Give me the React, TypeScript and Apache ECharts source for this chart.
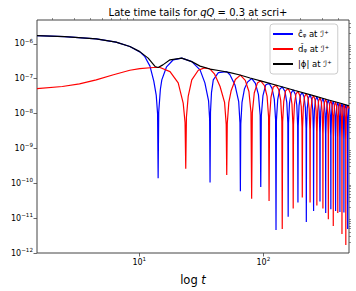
import React, { useEffect, useRef } from "react";
import * as echarts from "echarts";

// ---- data ----
const SERIES_NAMES = ["c\u0302\u1D69 at \u2110\u207A", "d\u0302\u1D69 at \u2110\u207A", "|\u03D5| at \u2110\u207A"];

const X_MIN = 1.5;
const X_MAX = 490;
const Y_MIN = 1e-12;
const Y_MAX = 4.85e-6;
const X_MAJOR = [10, 100];
const Y_MAJOR = [1e-12, 1e-11, 1e-10, 1e-9, 1e-8, 1e-7, 1e-6];

// ĉ_phi (blue)
const cHat: number[][] = [
  [1.5, 1.73e-6], [2.5, 1.62e-6], [4.5, 1.39e-6], [6.5, 1.12e-6], [8.4, 8.4e-7], [10.1, 5.9e-7],
  [11.1, 4.3e-7], [12.2, 2.3e-7], [13.1, 8.5e-8], [13.7, 3.4e-8], [14.05, 1e-8], [14.2, 1.4e-10],
  [14.35, 1.1e-8], [14.8, 5e-8], [15.2, 9.3e-8], [16.6, 2.2e-7], [18.8, 3.5e-7], [22, 3.9e-7],
  [26.5, 3.1e-7], [30.9, 1.8e-7], [33.8, 7.6e-8], [36.2, 2.3e-8], [36.9, 7e-9], [37.2, 1.05e-10],
  [37.5, 1.1e-8], [38.2, 4e-8], [39.5, 9.3e-8], [43.4, 1.5e-7], [50.7, 1.6e-7], [53.8, 1.3e-7],
  [59.2, 6.5e-8], [63.3, 2.2e-8], [64.8, 5.5e-9], [65.3, 5.9e-11], [65.8, 5e-9], [67.3, 2.1e-8],
  [70.5, 5.2e-8], [74.5, 8e-8], [80.5, 1.02e-7],
  [86.3, 7.4e-8], [91.3, 3.5e-8], [94.3, 9e-9], [95.3, 7.8e-11], [96.3, 8.7e-9], [99.3, 3.3e-8], [104.3, 6.6e-8], [111.2, 7.46e-8],
  [117.5, 5.3e-8], [122.5, 2.6e-8], [125.5, 6.8e-9], [126.5, 4.6e-12], [127.5, 6.5e-9], [130.5, 2.5e-8], [135.5, 5e-8], [142, 5.85e-8],
  [149.5, 4.3e-8], [154.5, 2.1e-8], [157.5, 5.4e-9], [158.5, 1.1e-11], [159.5, 5.2e-9], [162.5, 2e-8], [167.5, 3.9e-8], [174, 4.77e-8],
  [181, 3.6e-8], [186, 1.74e-8], [189, 4.5e-9], [190, 2.8e-11], [191, 4.4e-9], [194, 1.7e-8], [199, 3.4e-8], [206, 4.03e-8],
  [213, 3e-8], [218, 1.48e-8], [221, 3.8e-9], [222, 7.8e-12], [223, 3.7e-9], [226, 1.43e-8], [231, 2.8e-8], [238, 3.49e-8],
  [245, 2.6e-8], [250, 1.3e-8], [253, 3.3e-9], [254, 1.6e-11], [255, 3.2e-9], [258, 1.25e-8], [263, 2.45e-8], [270, 3.07e-8],
  [277, 2.3e-8], [282, 1.12e-8], [285, 2.9e-9], [286, 3e-11], [287, 2.85e-9], [290, 1.1e-8], [295, 2.2e-8], [302, 2.75e-8],
  [309, 2.07e-8], [314, 1e-8], [317, 2.6e-9], [318, 1.4e-11], [319, 2.55e-9], [322, 9.8e-9], [327, 1.97e-8], [334, 2.49e-8],
  [341, 1.87e-8], [346, 9.1e-9], [349, 2.35e-9], [350, 1.8e-11], [351, 2.3e-9], [354, 9e-9], [359, 1.8e-8], [366, 2.27e-8],
  [373, 1.72e-8], [378, 8.4e-9], [381, 2.15e-9], [382, 1.6e-11], [383, 2.1e-9], [386, 8.2e-9], [391, 1.66e-8], [398, 2.09e-8],
  [405, 1.6e-8], [410, 7.8e-9], [413, 2e-9], [414, 1.5e-11], [415, 1.95e-9], [418, 7.6e-9], [423, 1.53e-8], [430, 1.93e-8],
  [437, 1.48e-8], [442, 7.2e-9], [445, 1.85e-9], [446, 1.45e-11], [447, 1.8e-9], [450, 7e-9], [455, 1.42e-8], [462, 1.8e-8],
  [469, 1.38e-8], [474, 6.7e-9], [477, 1.72e-9], [478, 4.9e-12], [479, 1.7e-9], [482, 6.5e-9], [487, 1.32e-8], [490, 1.5e-8],
];

// d̂_phi (red)
const dHat: number[][] = [
  [1.5, 5.2e-8], [2.4, 6e-8], [3.3, 7.1e-8], [4.5, 9.3e-8], [6.2, 1.3e-7], [8.4, 1.75e-7], [10.1, 1.95e-7],
  [13, 2.1e-7], [14.7, 2.1e-7], [17.7, 1.6e-7], [20.6, 7.6e-8], [22.6, 2e-8], [23.4, 5.5e-9], [23.7, 2.6e-10],
  [24, 8e-9], [24.8, 3.1e-8], [26.5, 9.3e-8], [29.9, 1.75e-7], [33.5, 2.05e-7], [37.2, 1.9e-7], [40.5, 1.35e-7],
  [44.8, 6e-8], [48.7, 2.1e-8], [50.2, 5e-9], [50.7, 1.74e-10], [51.2, 5.2e-9], [52.7, 2.1e-8], [55, 4.5e-8],
  [59.5, 9.5e-8], [65.3, 1.27e-7],
  [71.5, 9e-8], [76.5, 4.3e-8], [79.5, 1.1e-8], [80.5, 3.6e-11], [81.5, 1.05e-8], [84.5, 3.9e-8], [89.5, 7.5e-8], [95.3, 8.7e-8],
  [102.2, 6.3e-8], [107.2, 3.1e-8], [110.2, 8e-9], [111.2, 3.1e-11], [112.2, 7.6e-9], [115.2, 2.9e-8], [120.2, 5.8e-8], [126.5, 6.56e-8],
  [133, 4.9e-8], [138, 2.4e-8], [141, 6e-9], [142, 4.9e-12], [143, 5.8e-9], [146, 2.2e-8], [151, 4.5e-8], [158.5, 5.24e-8],
  [165, 3.9e-8], [170, 1.9e-8], [173, 4.9e-9], [174, 1.9e-11], [175, 4.7e-9], [178, 1.8e-8], [183, 3.6e-8], [190, 4.37e-8],
  [197, 3.25e-8], [202, 1.6e-8], [205, 4.1e-9], [206, 3.9e-11], [207, 4e-9], [210, 1.55e-8], [215, 3.1e-8], [222, 3.74e-8],
  [229, 2.8e-8], [234, 1.38e-8], [237, 3.5e-9], [238, 2.8e-11], [239, 3.45e-9], [242, 1.33e-8], [247, 2.65e-8], [254, 3.27e-8],
  [261, 2.47e-8], [266, 1.2e-8], [269, 3.1e-9], [270, 2.3e-11], [271, 3.05e-9], [274, 1.17e-8], [279, 2.35e-8], [286, 2.9e-8],
  [293, 2.2e-8], [298, 1.07e-8], [301, 2.75e-9], [302, 1.9e-11], [303, 2.7e-9], [306, 1.04e-8], [311, 2.1e-8], [318, 2.61e-8],
  [325, 2e-8], [330, 9.7e-9], [333, 2.5e-9], [334, 9.3e-12], [335, 2.45e-9], [338, 9.4e-9], [343, 1.9e-8], [350, 2.37e-8],
  [357, 1.8e-8], [362, 8.8e-9], [365, 2.25e-9], [366, 6e-12], [367, 2.2e-9], [370, 8.6e-9], [375, 1.73e-8], [382, 2.17e-8],
  [389, 1.66e-8], [394, 8.1e-9], [397, 2.08e-9], [398, 1.4e-11], [399, 2.05e-9], [402, 7.9e-9], [407, 1.6e-8], [414, 2.0e-8],
  [421, 1.53e-8], [426, 7.4e-9], [429, 1.9e-9], [430, 3.5e-12], [431, 1.88e-9], [434, 7.2e-9], [439, 1.48e-8], [446, 1.86e-8],
  [453, 1.42e-8], [458, 6.9e-9], [461, 1.77e-9], [462, 1.7e-12], [463, 1.75e-9], [466, 6.7e-9], [471, 1.36e-8], [478, 1.74e-8],
  [484, 1.6e-8], [490, 1.4e-8],
];

// |phi| (black)
const phiAbs: number[][] = [
  [1.5, 1.73e-6], [2.5, 1.62e-6], [4.5, 1.39e-6], [6.5, 1.12e-6], [8.4, 8.4e-7], [10.1, 6e-7], [11.8, 3.9e-7],
  [13.4, 2.25e-7], [14.2, 2.1e-7], [15.5, 2.5e-7], [17.7, 3.5e-7], [22, 3.9e-7], [26.5, 3.1e-7], [30.9, 2.3e-7],
  [37.2, 1.9e-7], [44.8, 1.7e-7], [53.9, 1.5e-7], [64.9, 1.28e-7], [78.1, 1.05e-7], [100, 8.3e-8], [132, 6.3e-8],
  [180, 4.6e-8], [245, 3.4e-8], [330, 2.5e-8], [420, 1.98e-8], [490, 1.66e-8],
];

const COLORS = ["#0000ff", "#ff0000", "#000000"];

const powLabel = (v: number) => {
  const e = Math.round(Math.log10(v));
  return "{b|10}{s|" + (e < 0 ? "\u2212" : "") + Math.abs(e) + "}";
};

const minorTicks = (lo: number, hi: number) => {
  const out: number[] = [];
  for (let k = Math.floor(Math.log10(lo)); k <= Math.ceil(Math.log10(hi)); k++) {
    for (let m = 2; m <= 9; m++) {
      const v = m * Math.pow(10, k);
      if (v > lo && v < hi) out.push(v);
    }
  }
  return out;
};

export default function App() {
  const ref = useRef<HTMLDivElement>(null);
  useEffect(() => {
    if (!ref.current) return;
    const chart = echarts.init(ref.current, undefined, { renderer: "svg" });
    const font = "DejaVu Sans";
    const axisCol = "#444";
    const xMinor = minorTicks(X_MIN, X_MAX);
    const yMinor = minorTicks(Y_MIN, Y_MAX);
    const tickRich = {
      b: { fontFamily: font, fontSize: 8, color: "#000", lineHeight: 12, verticalAlign: "middle" },
      s: { fontFamily: font, fontSize: 5.6, color: "#000", lineHeight: 5, verticalAlign: "top" },
    };
    const baseX = { type: "log", logBase: 10, min: X_MIN, max: X_MAX, gridIndex: 0, splitLine: { show: false }, axisLine: { show: false } };
    const baseY = { type: "log", logBase: 10, min: Y_MIN, max: Y_MAX, gridIndex: 0, splitLine: { show: false }, axisLine: { show: false } };
    chart.setOption({
      animation: false,
      textStyle: { fontFamily: font },
      title: {
        text: "{n|Late time tails for }{i|qQ}{n| = 0.3 at scri+}",
        left: 193,
        textAlign: "center",
        top: 2,
        textStyle: {
          fontWeight: "normal",
          rich: {
            n: { fontFamily: font, fontSize: 10, fontWeight: "normal", color: "#000" },
            i: { fontFamily: font, fontSize: 10, fontWeight: "normal", fontStyle: "italic", color: "#000" },
          },
        },
      },
      grid: { left: 37, right: 7, top: 20, bottom: 37, show: true, borderColor: axisCol, borderWidth: 1, backgroundColor: "#fff" },
      legend: {
        data: SERIES_NAMES,
        orient: "vertical",
        left: 270,
        top: 24,
        itemWidth: 20,
        itemHeight: 2,
        itemGap: 5,
        icon: "rect",
        backgroundColor: "#fff",
        borderColor: "#ccc",
        borderWidth: 1,
        borderRadius: 3,
        padding: [5, 6, 5, 3],
        textStyle: { fontFamily: font, fontSize: 8.5, color: "#000", lineHeight: 10 },
      },
      xAxis: [
        {
          ...baseX,
          axisTick: { customValues: X_MAJOR, length: 3.5, lineStyle: { color: axisCol, width: 0.8 } },
          axisLabel: { customValues: X_MAJOR, formatter: (v: number) => powLabel(v), margin: 3, rich: tickRich },
          name: "{n|log }{i|t}",
          nameLocation: "middle",
          nameGap: 21,
          nameTextStyle: {
            rich: {
              n: { fontFamily: font, fontSize: 11.5, color: "#000" },
              i: { fontFamily: font, fontSize: 11.5, fontStyle: "italic", color: "#000" },
            },
          },
        },
        {
          ...baseX,
          axisTick: { customValues: xMinor, length: 2, lineStyle: { color: axisCol, width: 0.6 } },
          axisLabel: { show: false },
        },
      ],
      yAxis: [
        {
          ...baseY,
          axisTick: { customValues: Y_MAJOR, length: 3.5, lineStyle: { color: axisCol, width: 0.8 } },
          axisLabel: { customValues: Y_MAJOR, formatter: (v: number) => powLabel(v), margin: 4, rich: tickRich },
        },
        {
          ...baseY,
          axisTick: { customValues: yMinor, length: 2, lineStyle: { color: axisCol, width: 0.6 } },
          axisLabel: { show: false },
        },
      ],
      series: [cHat, dHat, phiAbs].map((d, i) => ({
        type: "line",
        name: SERIES_NAMES[i],
        data: d,
        xAxisIndex: 0,
        yAxisIndex: 0,
        showSymbol: false,
        symbol: "none",
        color: COLORS[i],
        lineStyle: { color: COLORS[i], width: 1.2 },
        z: 2 + i,
      })),
    });
    return () => chart.dispose();
  }, []);
  return <div ref={ref} style={{ width: 356, height: 291, position: "absolute", left: 0, top: 0 }} />;
}
